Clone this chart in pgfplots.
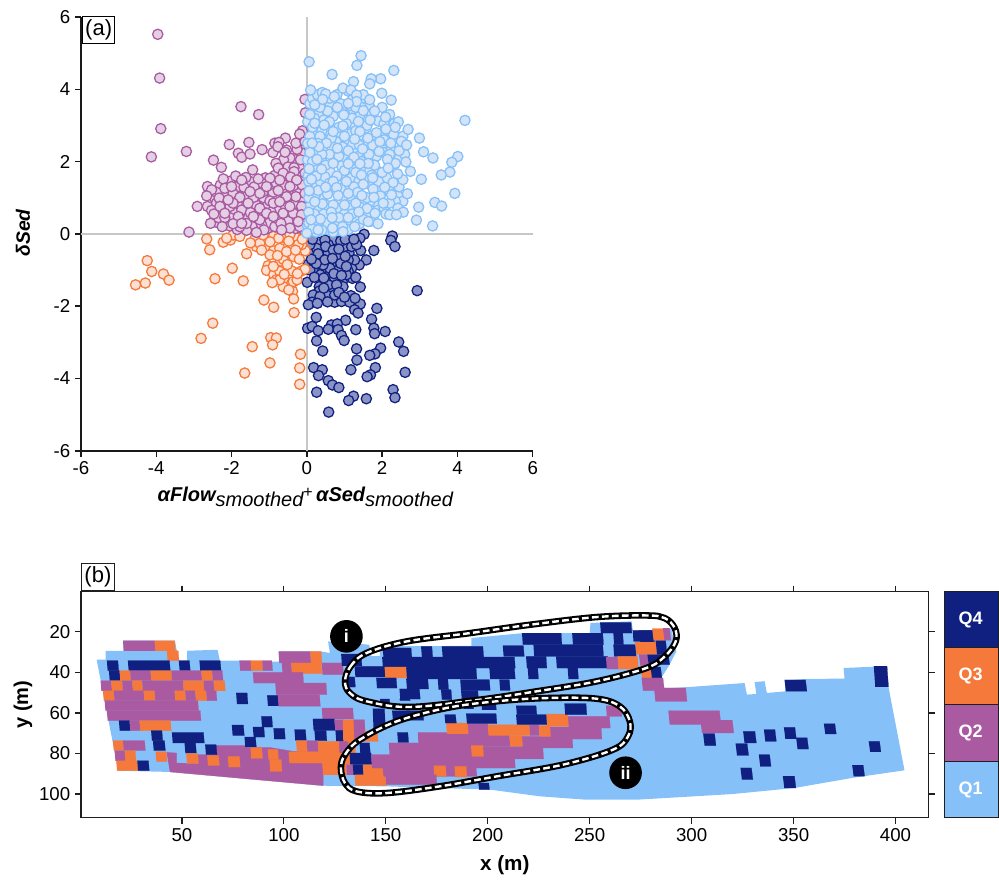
\documentclass[border=0pt]{standalone}
\usepackage{fontspec}
\setmainfont{Liberation Sans}
\usepackage{pgfplots}
\pgfplotsset{compat=1.18}
\definecolor{q1}{HTML}{85C0F9}
\definecolor{q2}{HTML}{A95AA1}
\definecolor{q3}{HTML}{F5793A}
\definecolor{q4}{HTML}{0F2080}
\definecolor{fq1}{HTML}{D3E4F8}
\definecolor{fq2}{HTML}{E4CFE4}
\definecolor{fq3}{HTML}{FDE0D4}
\definecolor{fq4}{HTML}{8A93C6}
\def\lean{0.2}
\newcommand\run[5]{%
 \pgfmathsetmacro\rxa{#2-\lean}\pgfmathsetmacro\rxb{#3-\lean}\pgfmathsetmacro\rxc{#3+\lean}\pgfmathsetmacro\rxd{#2+\lean}%
 \addplot[draw=#1,line width=0.15pt,fill=#1] coordinates {(\rxa,#4)(\rxb,#4)(\rxc,#5)(\rxd,#5)};}
\pgfplotsset{tk/.style={tick label style={font=\fontsize{14}{16}\selectfont},/pgf/number format/assume math mode=true}}
\begin{document}
\begin{tikzpicture}[x=0.75pt,y=0.75pt]
\path (0,0) rectangle (999,875);
% ---------- panel a
\begin{axis}[at={(60.75pt,318pt)},anchor=south west,scale only axis,width=339pt,height=325.5pt,
 xmin=-6,xmax=6,ymin=-6,ymax=6,axis lines=left,axis line style={-,line width=1.2pt,black!90},
 xtick={-6,-4,-2,0,2,4,6},ytick={-6,-4,-2,0,2,4,6},tick align=outside,major tick length=4.5pt,
 tick style={line width=1.1pt,black!90},tk,clip=false,axis on top=false]
\addplot[color=black!22,line width=1.2pt] coordinates {(-6,0)(6,0)};
\addplot[color=black!22,line width=1.2pt] coordinates {(0,-6)(0,6)};
% Q4
\addplot[only marks,mark=*,mark size=3.85pt,line width=0.95pt,mark options={draw=q4,fill=fq4}] coordinates {
(1.52,-0.01)(1.41,-0.12)(2.27,-0.06)(2.23,-0.18)(2.34,-0.35)(1.78,-0.46)(1.43,-0.46)(1.16,-0.21)(0.79,-0.30)(0.70,-0.17)(0.26,-0.21)(0.43,-0.49)(0.61,-0.60)(1.12,-0.53)(1.58,-0.72)(1.39,-0.86)(0.74,-0.81)(0.04,-0.84)(0.39,-1.00)(0.83,-1.00)(1.19,-0.95)(1.10,-1.04)(0.61,-1.23)(0.94,-1.32)(1.21,-1.23)(0.01,-1.34)(0.33,-1.46)(0.33,-1.58)(0.61,-1.59)(1.42,-1.47)(2.93,-1.57)(0.96,-1.46)(1.17,-1.71)(0.17,-1.69)(0.45,-1.78)(0.74,-1.89)(0.92,-1.87)(0.14,-1.89)(0.04,-1.96)(1.14,-1.89)(1.42,-1.94)(1.27,-2.10)(1.36,-2.19)(1.86,-2.06)(1.72,-2.36)(1.78,-2.61)(1.80,-2.76)(2.08,-2.70)(0.25,-2.31)(0.02,-2.61)(0.14,-2.56)(0.30,-2.68)(1.03,-2.39)(0.65,-2.52)(0.81,-2.49)(0.57,-2.64)(0.83,-2.65)(1.30,-2.65)(0.92,-2.81)(0.99,-2.95)(0.26,-2.96)(0.42,-3.24)(2.44,-2.99)(2.57,-3.25)(1.32,-3.18)(1.96,-3.16)(1.81,-3.32)(1.67,-3.36)(1.33,-3.49)(1.17,-3.76)(1.82,-3.70)(1.69,-3.90)(1.60,-3.95)(2.61,-3.83)(0.18,-3.70)(0.41,-3.76)(0.31,-3.92)(0.57,-4.06)(0.68,-4.18)(0.85,-4.25)(0.26,-4.38)(2.29,-4.31)(2.34,-4.53)(1.58,-4.56)(1.24,-4.49)(1.11,-4.61)(0.58,-4.93)
(0.39,-0.67)(0.96,-0.72)(0.61,-0.95)(0.17,-0.53)(1.01,-0.35)(1.27,-0.72)(0.57,-0.30)(0.48,-0.17)(0.83,-0.63)(1.10,-0.72)(0.35,-1.13)(0.74,-1.23)(0.52,-1.69)(0.74,-1.69)(0.35,-1.73)(1.05,-1.13)(0.17,-0.95)(0.08,-1.00)(0.26,-0.40)(0.08,-0.30)(1.19,-0.35)(0.43,-0.86)(0.57,-1.41)(0.79,-1.41)(0.57,-0.53)(1.32,-0.30)
(0.15,-0.15)(0.30,-0.55)(0.50,-0.35)(0.70,-0.45)(0.90,-0.20)(1.02,-0.15)(1.25,-0.15)(0.85,-0.42)(0.48,-0.72)(0.68,-0.68)(0.90,-0.82)(1.05,-0.90)(0.25,-0.82)(0.12,-0.70)(0.20,-1.20)(0.45,-1.22)(0.72,-1.10)(0.92,-1.15)(0.45,-1.50)(0.85,-1.62)(1.00,-1.75)(0.55,-1.88)(0.28,-1.92)(1.28,-1.78)(1.30,-1.20)(1.02,-0.62)};
% Q3
\addplot[only marks,mark=*,mark size=3.85pt,line width=0.95pt,mark options={draw=q3,fill=fq3}] coordinates {
(-4.24,-0.74)(-4.12,-1.04)(-3.81,-1.11)(-3.66,-1.28)(-4.29,-1.36)(-4.55,-1.41)(-2.66,-0.14)(-2.58,-0.44)(-2.22,-0.23)(-2.03,-0.17)(-1.96,-0.03)(-1.78,-0.07)(-1.60,-0.55)(-1.98,-0.95)(-2.44,-1.24)(-1.69,-1.30)(-1.34,-0.35)(-1.38,-0.14)(-1.03,-0.37)(-0.89,-0.07)(-0.89,-0.47)(-0.98,-0.58)(-0.70,-0.75)(-1.03,-0.88)(-1.07,-1.01)(-0.88,-1.13)(-0.72,-1.04)(-0.81,-1.27)(-0.41,-1.02)(-0.17,-1.04)(-0.05,-0.98)(-0.58,-1.34)(-0.41,-1.39)(-0.63,-1.46)(-0.38,-1.59)(-0.35,-1.80)(-1.14,-1.83)(-0.88,-2.03)(-0.34,-2.18)(-2.50,-2.47)(-2.81,-2.89)(-1.45,-3.12)(-0.96,-2.87)(-0.81,-2.88)(-0.91,-3.07)(-0.98,-3.57)(-1.65,-3.85)(-0.17,-3.33)(-0.19,-3.71)(-0.19,-4.16)(-0.36,-0.38)(-0.35,-0.63)(-0.04,-0.47)(-0.58,-0.12)(-0.27,-0.12)(-1.12,-0.12)(-0.14,-0.30)(-0.45,-0.02)(-0.63,-0.70)(-0.36,-1.32)(-0.89,-0.90)(-1.25,-0.26)(-0.72,-0.40)(-0.54,-0.49)(-1.16,-0.03)(-0.22,-0.29)(-0.72,-1.27)(-0.26,-1.27)(-2.13,-0.12)
(-0.20,-0.70)(-0.12,-0.15)(-0.30,-0.45)(-0.48,-0.20)(-0.75,-0.12)(-0.98,-0.22)(-1.20,-0.45)(-1.50,-0.25)(-0.78,-0.60)(-0.52,-0.85)(-0.60,-1.12)(-0.92,-1.35)(-0.25,-1.10)(-0.48,-1.55)};
% Q2
\addplot[only marks,mark=*,mark size=3.85pt,line width=0.95pt,mark options={draw=q2,fill=fq2}] coordinates {
(-0.15,2.25)(-0.30,2.05)(-0.45,2.10)(-0.62,2.05)(-0.90,2.25)(-0.50,1.85)(-0.20,1.85)(-0.10,1.50)(-0.15,1.20)(-0.25,1.18)(-0.45,1.45)(-0.60,1.35)(-0.85,1.62)(-1.10,1.55)(-1.20,1.40)(-1.50,1.45)(-1.75,1.38)(-2.05,1.45)(-2.30,1.35)(-2.45,1.00)(-2.15,1.05)(-1.88,1.10)(-1.65,1.05)(-1.35,0.95)(-1.05,0.80)(-0.80,1.00)(-0.60,0.95)(-0.38,0.95)(-0.18,0.65)(-0.10,0.35)(-0.35,0.35)(-0.55,0.55)(-0.75,0.65)(-0.95,0.60)(-1.10,0.42)(-1.35,0.55)(-1.55,0.65)(-1.65,0.50)(-1.95,0.60)(-2.15,0.75)(-2.40,0.85)(-2.35,0.30)(-2.05,0.22)(-1.85,0.12)(-1.45,0.20)(-1.05,0.15)(-0.55,0.18)(-0.30,0.40)(-0.08,0.12)(-0.85,0.38)
(-1.40,1.30)(-1.15,1.00)(-1.55,0.45)(-1.00,0.30)(-0.85,0.20)(-2.05,0.45)(-2.35,0.45)(-1.85,0.85)(-1.35,0.80)(-0.50,0.35)(-0.30,0.85)(-0.15,1.00)(-0.55,1.10)(-0.90,1.15)(-1.85,1.30)(-2.40,1.15)(-1.15,0.60)(-0.30,0.15)(-1.60,0.10)(-1.20,0.25)
(-3.96,5.52)(-3.91,4.31)(-3.88,2.91)(-4.13,2.13)(-3.20,2.28)(-1.75,3.52)(-1.28,3.30)(-2.06,2.47)(-1.54,2.53)(-1.19,2.33)(-1.82,2.23)(-1.73,2.12)(-1.51,2.21)(-2.48,2.04)(-2.27,1.84)(-1.44,1.77)(-0.05,3.72)(-0.04,3.35)(-0.12,2.85)(-0.19,2.76)(-0.57,2.65)(-0.85,2.51)(-0.74,2.53)(-0.77,2.41)(-0.54,2.32)(-0.58,2.26)(-0.26,2.34)(-0.29,2.51)(-0.05,2.55)(-0.17,2.05)(-0.82,1.95)(-0.76,1.82)(-0.63,1.68)(-0.34,1.83)(-0.34,1.72)(-2.22,1.52)(-1.89,1.60)(-1.62,1.56)(-1.29,1.52)(-0.96,1.37)(-0.81,1.40)(-0.98,1.54)(-2.64,1.31)(-2.53,1.22)(-2.18,1.26)(-1.96,1.12)(-1.67,1.29)(-2.66,1.05)(-2.91,0.76)(-2.64,0.76)(-2.22,0.71)(-1.73,0.66)(-1.50,0.59)(-1.25,0.71)(-0.98,0.91)(-0.56,0.73)(-0.36,1.33)(-0.43,1.57)(-1.16,1.17)(-1.41,1.01)(-1.78,1.01)(-1.25,1.12)(-0.76,1.20)(-0.29,1.03)(-0.14,0.76)(-0.12,1.35)(-0.27,1.49)(-2.33,0.99)(-2.04,0.76)(-2.53,0.65)(-2.47,0.55)(-2.18,0.45)(-2.56,0.29)(-2.25,0.20)(-1.82,0.48)(-1.60,0.29)(-1.25,0.39)(-0.81,0.43)(-0.69,0.29)(-0.36,0.57)(-0.14,0.53)(-0.19,0.20)(-0.45,0.16)(-0.67,0.11)(-1.14,0.11)(-1.34,0.04)(-1.78,0.20)(-1.96,0.28)(-3.13,0.05)(-1.42,0.48)(-1.07,0.57)(-0.89,0.48)(-0.63,0.57)(-0.89,0.85)(-1.56,0.85)(-1.96,0.85)(-2.31,0.76)(-2.18,0.57)(-1.73,0.29)(-2.09,0.94)(-2.00,1.31)(-1.73,1.49)(-1.51,1.17)(-1.07,1.31)(-0.54,1.03)(-0.72,0.89)(-0.45,0.76)(-0.23,0.34)(-0.05,1.12)(-0.05,1.68)(-0.45,1.31)(-0.72,1.49)};
% Q1
\addplot[only marks,mark=*,mark size=3.85pt,line width=0.95pt,mark options={draw=q1,fill=fq1}] coordinates {
(0.08,3.60)(0.30,3.30)(0.45,3.15)(0.70,3.25)(0.62,3.60)(0.95,3.45)(1.15,3.40)(1.55,3.62)(1.72,3.35)(1.90,3.12)(1.50,3.18)(1.25,3.02)(0.88,2.80)(0.55,2.85)(0.25,2.80)(0.08,2.70)(0.42,2.62)(0.78,2.55)(1.08,2.52)(1.18,2.78)(1.50,2.70)(1.72,2.72)(2.00,2.72)(1.98,2.40)(1.55,2.50)(1.30,2.30)(0.95,2.40)(0.55,2.38)(0.20,2.28)(0.40,2.00)(0.72,2.08)(1.02,2.10)(1.38,2.15)(1.55,2.05)(1.85,2.15)(2.05,2.25)(2.25,2.35)(2.45,2.10)(2.28,1.85)(2.12,1.55)(1.85,1.75)(1.62,1.78)(1.42,1.80)(1.20,1.82)(0.92,1.88)(0.62,1.72)(0.35,1.45)(0.22,1.85)(0.10,1.65)(0.48,1.58)(0.80,1.40)(0.98,1.58)(1.18,1.55)(1.38,1.45)(1.65,1.38)(1.95,1.22)(2.18,1.20)(2.42,1.05)(2.55,0.90)(2.35,0.90)(1.85,0.85)(1.68,0.90)(1.45,0.90)(1.15,1.05)(0.95,1.02)(0.65,1.22)(0.42,1.05)(0.22,1.05)(0.15,1.30)(0.08,0.52)(0.28,0.72)(0.55,0.78)(0.82,0.72)(1.12,0.72)(1.40,0.75)(1.62,0.50)(1.88,0.65)(2.05,0.72)(1.30,0.45)(1.00,0.55)(0.72,0.35)(0.50,0.42)(0.20,0.38)(0.30,0.20)(0.55,0.12)(0.82,0.22)(1.05,0.32)(1.40,0.28)(0.10,0.10)(0.02,0.22)(0.25,0.05)(0.48,0.25)(0.85,0.10)(0.70,0.05)(1.10,0.12)(0.15,3.75)(0.28,3.85)(0.60,3.75)(1.22,3.75)(1.65,3.58)(2.00,3.50)(1.15,3.55)(2.20,3.30)(2.32,3.05)(2.05,3.05)(2.25,2.55)(2.42,2.65)(2.55,2.70)(2.55,2.35)(0.02,3.10)(0.02,2.50)(0.02,2.05)(0.03,1.60)(0.40,2.85)(0.65,2.42)(1.02,3.28)(1.40,3.25)(1.22,2.48)(1.45,2.00)(1.72,1.62)(1.05,1.30)
(0.20,3.20)(0.35,2.70)(0.55,3.40)(0.60,2.20)(0.90,3.60)(1.00,2.70)(1.20,3.20)(1.45,3.50)(1.60,3.00)(1.75,2.45)(1.85,2.80)(2.05,2.60)(2.20,2.20)(2.00,1.70)(1.80,1.90)(1.55,1.50)(1.30,1.70)(1.00,1.75)(0.85,2.15)(0.50,1.90)(0.25,1.60)(0.15,2.95)(0.30,1.20)(0.55,1.10)(0.90,1.25)(1.25,1.30)(1.60,1.00)(1.95,1.05)(2.20,0.85)(1.60,0.70)(1.30,0.85)(1.00,0.80)(0.70,0.80)(0.45,0.55)(0.20,0.55)(0.10,0.80)(0.30,0.30)(0.55,0.30)(0.85,0.45)(1.20,0.55)(1.50,0.40)(0.05,0.30)(0.15,0.15)(0.40,0.10)(0.65,0.60)(0.95,0.20)(1.05,3.05)(1.40,2.45)(1.10,2.30)(0.65,2.65)(0.40,2.20)(1.65,2.20)(1.90,1.45)(2.45,1.30)(2.55,1.50)(2.35,1.95)(2.60,2.20)(0.80,1.60)(0.05,1.45)(0.05,1.00)(0.05,0.60)(1.75,1.55)(1.15,2.00)(1.30,2.85)(0.85,2.95)(0.35,3.50)(0.80,3.85)(1.10,3.95)(1.50,3.85)(1.80,3.40)(1.30,3.50)(0.60,3.10)(0.15,2.00)(0.30,2.50)(2.30,2.75)(2.10,2.90)(2.45,2.30)(0.60,1.40)(1.35,1.15)(1.70,0.35)(2.10,0.55)
(0.06,4.76)(1.44,4.93)(1.33,4.66)(0.67,4.41)(2.31,4.52)(1.96,4.29)(1.71,4.29)(1.67,4.15)(1.24,4.21)(0.10,3.98)(0.41,3.91)(0.50,3.87)(0.42,3.72)(0.73,3.80)(0.96,4.03)(1.17,3.98)(1.32,3.84)(1.32,3.66)(1.99,3.89)(2.24,3.70)(1.67,3.71)(0.21,3.57)(0.81,3.50)(1.10,3.61)(1.50,3.41)(0.08,3.30)(0.98,3.29)(2.09,3.23)(2.43,3.10)(1.68,3.15)(1.37,3.11)(0.21,3.06)(0.46,3.01)(0.96,2.99)(2.35,2.95)(2.69,2.89)(4.20,3.14)(1.41,2.83)(0.70,2.83)(2.99,2.65)(1.62,2.65)(1.27,2.62)(2.51,2.56)(2.23,2.51)(1.94,2.55)(0.52,2.51)(0.32,2.41)(0.14,2.51)(0.81,2.37)(1.48,2.35)(2.65,2.46)(3.10,2.27)(3.35,2.10)(4.01,2.14)(3.85,1.98)(3.80,1.71)(3.57,1.63)(3.04,1.51)(2.75,1.73)(2.63,1.99)(1.92,2.28)(0.08,2.25)(0.27,2.06)(1.25,2.12)(2.14,2.06)(0.70,1.95)(1.63,1.95)(1.41,1.94)(1.10,1.94)(0.39,1.79)(0.06,1.80)(2.41,1.66)(1.45,1.63)(2.16,1.82)(0.12,1.51)(0.70,1.45)(1.05,1.45)(2.29,1.42)(0.50,1.29)(0.79,1.28)(2.07,1.29)(1.76,1.24)(1.50,1.37)(3.93,1.12)(2.67,1.11)(0.06,1.19)(1.10,1.12)(1.46,1.06)(0.83,1.06)(1.78,1.01)(2.25,1.08)(2.97,0.74)(3.40,0.87)(3.58,0.77)(2.03,0.85)(0.41,0.83)(0.21,0.89)(2.42,0.71)(2.56,0.60)(2.20,0.53)(2.38,0.53)(1.38,0.61)(1.81,0.57)(1.10,0.45)(0.36,0.41)(0.11,0.39)(2.91,0.38)(1.89,0.28)(1.63,0.34)(3.34,0.22)(0.67,0.45)(0.68,0.16)(0.96,0.06)(0.00,0.02)(0.30,0.11)(1.27,0.20)};
\end{axis}
\node[draw=black,line width=1.1pt,anchor=south west,inner sep=0pt,minimum width=24pt,minimum height=20pt,fill=white,font=\fontsize{16.5}{18}\selectfont] at (82,831) {(a)};
\node[rotate=90,font=\fontsize{14.5}{16}\selectfont] at (23,642) {\bfseries\itshape δSed};
\node[font=\fontsize{15}{17}\selectfont] at (305.5,378) {{\bfseries\itshape αFlow}\raisebox{-4pt}{\itshape smoothed}\raisebox{3pt}{\fontsize{12}{12}\selectfont +}\,{\bfseries\itshape αSed}\raisebox{-4pt}{\itshape smoothed}};
% ---------- panel b
\begin{axis}[at={(60.75pt,42.75pt)},anchor=south west,scale only axis,width=636pt,height=169.5pt,
 xmin=0.5,xmax=416.2,ymin=0.3,ymax=111.6,y dir=reverse,
 xtick={50,100,150,200,250,300,350,400},ytick={20,40,60,80,100},
 tick align=outside,major tick length=4.5pt,axis line style={line width=0.95pt,black!88},
 tick style={line width=0.95pt,black!88},tick pos=both,xticklabel pos=lower,yticklabel pos=lower,tk,
 axis on top=true]
% Q1 domain
\addplot[fill=q1,draw=none] coordinates {(8.2,33.8)(12.6,33.8)(12.6,29.4)(21.3,29.4)(21.3,24.4)(46.6,24.4)(48.4,34.3)(52.6,34.3)(52.6,29.4)(67.5,28.9)(68.6,34.3)(78.4,34.3)(97.6,34.8)(97.6,29.7)(118,29.7)(122.6,30.5)(121.7,24.8)(141.9,26.4)(142.9,32)(147.1,32)(147.1,27.2)(192,27)(192,23.1)(217.4,20.7)(250,20.7)(250.4,15.7)(270.5,14.9)(271.3,19.8)(290,18.5)(292.5,29.7)(289.2,36.2)(285.1,42.8)(286.3,48)(296.6,47.4)(326,45.3)(327.1,51)(331.7,50.7)(330.9,44.8)(335.8,44.4)(336.9,50.2)(345.9,49.4)(345.9,44)(356.2,43.3)(375,43.1)(374.5,37.9)(394.6,37)(404.4,88.3)(379,92)(350.5,97)(320,100)(274.5,102.7)(264.7,102.8)(248.4,102.8)(225.5,101.1)(201,97.8)(175,97)(150,96.2)(120.1,95.9)(44.1,89.1)(18.8,88.5)};
% Q2 underlay, left bottom band
\addplot[fill=q2,draw=q2,line width=0.15pt] coordinates {(42.5,79.4)(47.4,79.8)(47.4,84.7)(58,85)(58,80.6)(66.5,80.6)(66.5,76)(81.7,76)(81.7,77)(93,77)(105,79)(119.3,79)(119.3,95.9)(44.1,89.1)};
% left part
\run{q2}{21.3}{36.8}{24.4}{29.4}\run{q3}{36.8}{46.6}{24.4}{29.4}\run{q3}{42.8}{48.4}{29.4}{34.3}
\run{q4}{13.4}{18.8}{34.3}{39.2}\run{q4}{23.7}{44.1}{34.3}{39.2}\run{q4}{48.7}{53.9}{34.3}{39.2}\run{q4}{58.8}{69}{34.3}{39.2}
\run{q2}{78.4}{84.2}{34.3}{39.2}\run{q3}{83.8}{89.6}{34.3}{39.2}\run{q2}{89.6}{94.3}{34.3}{39.2}
\run{q2}{97.6}{113.1}{29.7}{35.4}\run{q3}{113.1}{118.5}{29.7}{35.4}\run{q2}{99.2}{103.8}{35.4}{40.7}\run{q3}{103.8}{118.5}{35.4}{40.7}\run{q2}{118.8}{129.1}{35.4}{41.2}
\run{q4}{14.4}{19.6}{39.2}{44.1}\run{q3}{19.6}{24.8}{39.2}{44.1}\run{q2}{24.8}{34.8}{39.2}{44.1}\run{q3}{34.8}{45}{39.2}{44.1}\run{q2}{45}{59.7}{39.2}{44.1}\run{q3}{59.7}{65}{39.2}{44.1}\run{q2}{65}{70}{39.2}{44.1}\run{q2}{85}{109.5}{40}{45.3}
\run{q2}{10.3}{15.5}{44.1}{49.1}\run{q3}{15.5}{20.9}{44.1}{49.1}\run{q2}{20.9}{25.8}{44.1}{49.1}\run{q3}{25.8}{30.7}{44.1}{49.1}\run{q2}{30.7}{50.7}{44.1}{49.1}\run{q3}{50.7}{60.8}{44.1}{49.1}\run{q2}{60.8}{65.7}{44.1}{49.1}\run{q3}{65.7}{71.1}{44.1}{49.1}\run{q2}{96}{120.9}{45.3}{51}
\run{q3}{11.5}{16.8}{49.1}{54}\run{q2}{16.8}{31.4}{49.1}{54}\run{q3}{31.4}{36.8}{49.1}{54}\run{q2}{36.8}{46.6}{49.1}{54}\run{q3}{46.6}{51.8}{49.1}{54}\run{q2}{51.8}{56.7}{49.1}{54}\run{q3}{56.7}{62.1}{49.1}{54}\run{q2}{62.1}{67}{49.1}{54}
\run{q4}{76.8}{82.2}{50.2}{55.6}\run{q4}{92}{97.6}{51.4}{56.5}\run{q2}{97.2}{117.7}{51}{56.8}
\run{q2}{12.3}{58}{54}{58.9}\run{q2}{13.4}{59.2}{58.9}{63.8}\run{q2}{118.8}{134}{57.6}{63}
\run{q4}{19.3}{24.5}{63.8}{68.8}\run{q2}{24.5}{29.4}{63.8}{68.8}\run{q3}{29.4}{44.6}{63.8}{68.8}\run{q4}{89.1}{94.3}{61.7}{67}\run{q4}{114.4}{125}{63}{68.6}\run{q2}{125}{129.9}{63.4}{68.6}
\run{q4}{35.1}{40.4}{68.8}{73.7}\run{q4}{45.3}{60.8}{69.6}{74.8}\run{q4}{74.7}{80.4}{66}{71.2}\run{q4}{85}{90.4}{67}{71.9}\run{q4}{95.1}{100.5}{67.6}{72.9}\run{q4}{105.4}{110.8}{68.3}{73.5}\run{q4}{115.2}{120.9}{68.6}{73.7}\run{q4}{125.5}{130.8}{68.6}{74}
\run{q3}{16.4}{21.3}{73.7}{78.6}\run{q2}{21.3}{31.9}{73.7}{78.6}\run{q4}{36}{41.7}{73.7}{78.6}\run{q4}{51.5}{56.9}{74.8}{79.8}\run{q4}{61.6}{67}{75.7}{80.6}\run{q4}{80.9}{86.3}{71.9}{76.8}
\run{q3}{106.2}{111.4}{73.7}{79.1}\run{q2}{111.4}{116.8}{73.7}{79.1}\run{q3}{116.8}{122.6}{74}{79.8}
\run{q2}{17.2}{22.1}{78.6}{83.6}\run{q3}{22.1}{27.3}{78.6}{83.6}\run{q3}{37.3}{42.5}{79.1}{84}
\run{q3}{18}{28.3}{83.6}{88.5}\run{q4}{28.3}{33.8}{83.6}{88.5}
\run{q3}{52.3}{58}{80.1}{85}\run{q3}{62.6}{68.2}{81}{86}\run{q3}{72.7}{78.4}{81.4}{86.7}\run{q3}{83.8}{89.4}{77.1}{82.4}\run{q3}{92.3}{97.2}{78}{83}\run{q3}{93.1}{98.9}{83}{88.8}\run{q3}{102.5}{126.6}{79.1}{84.7}\run{q3}{119}{130.7}{84.7}{90.5}
% centre, lower band
\run{q3}{129.1}{134.9}{63.4}{79.8}\run{q2}{134.4}{139.8}{63.4}{74}\run{q3}{139.8}{146}{69}{74}\run{q4}{143.8}{149.6}{58}{68.3}\run{q4}{137.3}{142.2}{74.8}{79.8}\run{q2}{126.2}{131.6}{74}{79.8}\run{q3}{122.6}{127.2}{74}{90.5}\run{q3}{127.2}{132.4}{79.8}{85.5}\run{q4}{132.4}{143}{79.8}{85.5}\run{q2}{130.8}{134.4}{85.5}{90.5}\run{q4}{134}{138.9}{85.5}{90.5}\run{q3}{138.9}{148.7}{85.5}{90.5}\run{q3}{134.9}{150}{90.5}{95.9}
\run{q2}{143}{213.3}{80.6}{87.2}\run{q2}{151.7}{192}{74.8}{81.4}\run{q2}{192}{227.2}{76.5}{82.7}\run{q2}{165.9}{210.8}{69.6}{76.5}\run{q2}{216.9}{241.6}{71.6}{77.3}\run{q3}{210.8}{216.9}{71.2}{76.5}\run{q3}{192}{197.8}{76}{81.4}
\run{q3}{179.8}{190.4}{65}{70.3}\run{q2}{190.4}{200.2}{65.3}{70.7}\run{q3}{200.2}{220.6}{65.8}{71.2}\run{q2}{220.6}{225.2}{65.8}{71.2}\run{q3}{225.2}{230.8}{66.3}{71.6}\run{q2}{230.8}{255.8}{67}{72.9}
\run{q2}{239.4}{259.9}{61.7}{67.5}\run{q3}{228.8}{239.4}{60.6}{66.6}\run{q2}{258.2}{265.6}{56.5}{61.7}\run{q4}{237.8}{248.4}{55.5}{60.9}\run{q4}{214.1}{223.9}{56.5}{60.9}\run{q4}{214.1}{228.8}{60.9}{65.8}
\run{q4}{153.3}{168.4}{58.9}{63.7}\run{q4}{179}{184.4}{60.9}{65}\run{q4}{189.6}{204.3}{60.4}{65.3}\run{q4}{155.8}{161}{69.6}{74.5}\run{q4}{195.6}{200.7}{94.6}{97.8}
\run{q2}{148.7}{194.5}{87.2}{91.3}\run{q3}{173.6}{179.5}{86}{91.3}\run{q3}{183.9}{189.6}{86.3}{91.6}\run{q2}{150}{174.9}{90.5}{95.4}
% centre, upper band
\run{q4}{255.3}{270.5}{15.4}{20.7}\run{q4}{217}{236.2}{20.7}{26.4}\run{q4}{241.6}{256.6}{20.7}{26.4}\run{q4}{261.8}{266.4}{20.7}{26.4}\run{q4}{271.3}{281.9}{19.3}{24.8}
\run{q4}{148.7}{162.6}{28}{33}\run{q4}{167.5}{172.8}{27.2}{32.5}\run{q4}{177.7}{197.8}{27.2}{32.5}\run{q4}{207.6}{217.7}{26.9}{32.2}\run{q4}{222.6}{256.6}{26.4}{32.2}\run{q4}{261.8}{272.6}{26.4}{32.2}
\run{q4}{128.3}{138.1}{31}{36.8}\run{q4}{148.4}{213.3}{32.5}{37.9}\run{q4}{219}{228.8}{32.2}{37.9}\run{q4}{233.7}{259}{32.2}{37.9}\run{q2}{258.2}{263.9}{32.5}{38.4}\run{q3}{263.9}{273.7}{32.2}{38.4}
\run{q4}{134.9}{149.6}{37.1}{42.3}\run{q3}{149.6}{160.2}{37.4}{42.8}\run{q4}{160.2}{194.5}{37.9}{43.3}\run{q4}{201}{213.3}{37.9}{43.3}\run{q4}{219.8}{224.7}{37.9}{43.3}\run{q4}{239.4}{244.3}{37.9}{43.3}
\run{q4}{130}{134.9}{42.3}{47.3}\run{q4}{145.5}{155.3}{42.8}{47.8}\run{q4}{160.2}{170.8}{43.3}{48.2}\run{q4}{175.7}{180.6}{43.3}{48.6}\run{q4}{186.7}{201}{43.6}{48.9}\run{q4}{205.9}{210.8}{43.6}{48.9}
\run{q4}{156.9}{166.7}{48.2}{53.2}\run{q4}{177.3}{182.2}{48.6}{53.5}\run{q4}{187.1}{195.3}{48.9}{53.5}\run{q4}{147.4}{152}{53.2}{57}\run{q4}{156.9}{161.8}{53.2}{54}\run{q4}{188}{192.9}{54}{58}\run{q4}{197}{204}{53}{58.5}
% right part
\def\lean{0.35}
\run{q4}{274.5}{281}{19.5}{25.2}\run{q3}{281}{286.8}{18.5}{24.4}\run{q2}{286.3}{289.5}{18.3}{24.2}\run{q3}{272.6}{282.7}{25.2}{31.3}\run{q4}{282.7}{287.6}{24.4}{31.3}\run{q2}{274.5}{278.6}{31.3}{36.7}\run{q4}{278.6}{288.9}{31.3}{36.2}
\run{q3}{275.3}{280.2}{36.7}{42.8}\run{q4}{280.2}{285.1}{37.4}{42.8}\run{q2}{275.8}{286.3}{42.8}{49}\run{q2}{281.9}{297.4}{47.7}{54.3}
\run{q2}{288.9}{314}{59}{65.8}\run{q2}{304.7}{320.3}{63.6}{69.9}\run{q4}{306}{311.6}{70.2}{76.1}\run{q4}{325.6}{331.4}{69.1}{74.8}\run{q4}{321.9}{327.6}{75.1}{81}\run{q4}{335.8}{341.2}{68.2}{74}\run{q4}{345.6}{351}{67.1}{72.8}\run{q4}{351.6}{357}{72.2}{77.8}\run{q4}{333.3}{338.6}{80.6}{86.3}\run{q4}{324.3}{329.7}{87.1}{92.9}\run{q4}{345.1}{350.8}{91.2}{97}\run{q4}{365.2}{370.6}{65.3}{70.4}\run{q4}{387.2}{392.5}{74}{79.2}\run{q4}{379.1}{384.5}{85.8}{91.2}\run{q4}{389.7}{396.2}{37}{47.2}\run{q4}{345.9}{356.2}{43.8}{49.4}
% outlined zones
\addplot[black,line width=4.9pt,smooth cycle,tension=0.6] coordinates {(130,44.5)(132.7,37.1)(140.6,30.5)(160.2,24.8)(191.2,20.7)(220.6,16.6)(253.3,12.8)(277.8,12)(286.8,13.3)(291.7,18.2)(292.2,24.8)(286.8,32.2)(277.8,37.9)(253.3,44.5)(223.9,49.4)(196.1,53.5)(161.8,57.1)(140.6,54.3)(132.4,50.2)};
\addplot[white,line width=1.8pt,smooth cycle,tension=0.6,dash pattern=on 5pt off 2.5pt] coordinates {(130,44.5)(132.7,37.1)(140.6,30.5)(160.2,24.8)(191.2,20.7)(220.6,16.6)(253.3,12.8)(277.8,12)(286.8,13.3)(291.7,18.2)(292.2,24.8)(286.8,32.2)(277.8,37.9)(253.3,44.5)(223.9,49.4)(196.1,53.5)(161.8,57.1)(140.6,54.3)(132.4,50.2)};
\addplot[black,line width=4.9pt,smooth cycle,tension=0.6] coordinates {(128,87.2)(130,80.6)(137.3,73.2)(155.3,64.2)(179.8,57.6)(204.3,54.3)(228.8,52.7)(253.3,53)(264.8,56.8)(269.7,64.2)(268.8,71.6)(261.5,78.1)(237,85.5)(204.3,91.3)(176.5,96.2)(150.4,99.5)(135.7,98.7)(130,94.6)};
\addplot[white,line width=1.8pt,smooth cycle,tension=0.6,dash pattern=on 5pt off 2.5pt] coordinates {(128,87.2)(130,80.6)(137.3,73.2)(155.3,64.2)(179.8,57.6)(204.3,54.3)(228.8,52.7)(253.3,53)(264.8,56.8)(269.7,64.2)(268.8,71.6)(261.5,78.1)(237,85.5)(204.3,91.3)(176.5,96.2)(150.4,99.5)(135.7,98.7)(130,94.6)};
\node[circle,fill=black,text=white,inner sep=0pt,minimum size=24.5pt,font=\bfseries\fontsize{13.5}{15}\selectfont] at (axis cs:130.7,22.3) {i};
\node[circle,fill=black,text=white,inner sep=0pt,minimum size=24.5pt,font=\bfseries\fontsize{13.5}{15}\selectfont] at (axis cs:267.6,89.5) {ii};
\end{axis}
\node[draw=black!88,line width=0.95pt,anchor=south west,inner sep=0pt,minimum width=24.5pt,minimum height=20.5pt,fill=white,font=\fontsize{16.5}{18}\selectfont] at (81,283.5) {(b)};
\node[font=\bfseries\fontsize{15.5}{17}\selectfont] at (505,9.5) {x (m)};
\node[rotate=90,font=\bfseries\fontsize{15}{17}\selectfont] at (23,170) {y (m)};
% colour key
\foreach \c/\t/\ya/\yb in {q4/Q4/227/283,q3/Q3/170/227,q2/Q2/113/170,q1/Q1/57/113}{
 \draw[fill=\c,draw=black!88,line width=0.75pt] (944.5,\ya) rectangle (999,\yb);
 \node[text=white,font=\bfseries\fontsize{13.5}{15}\selectfont] at (971,{(\ya+\yb)/2}) {\t};
}
\end{tikzpicture}
\end{document}
